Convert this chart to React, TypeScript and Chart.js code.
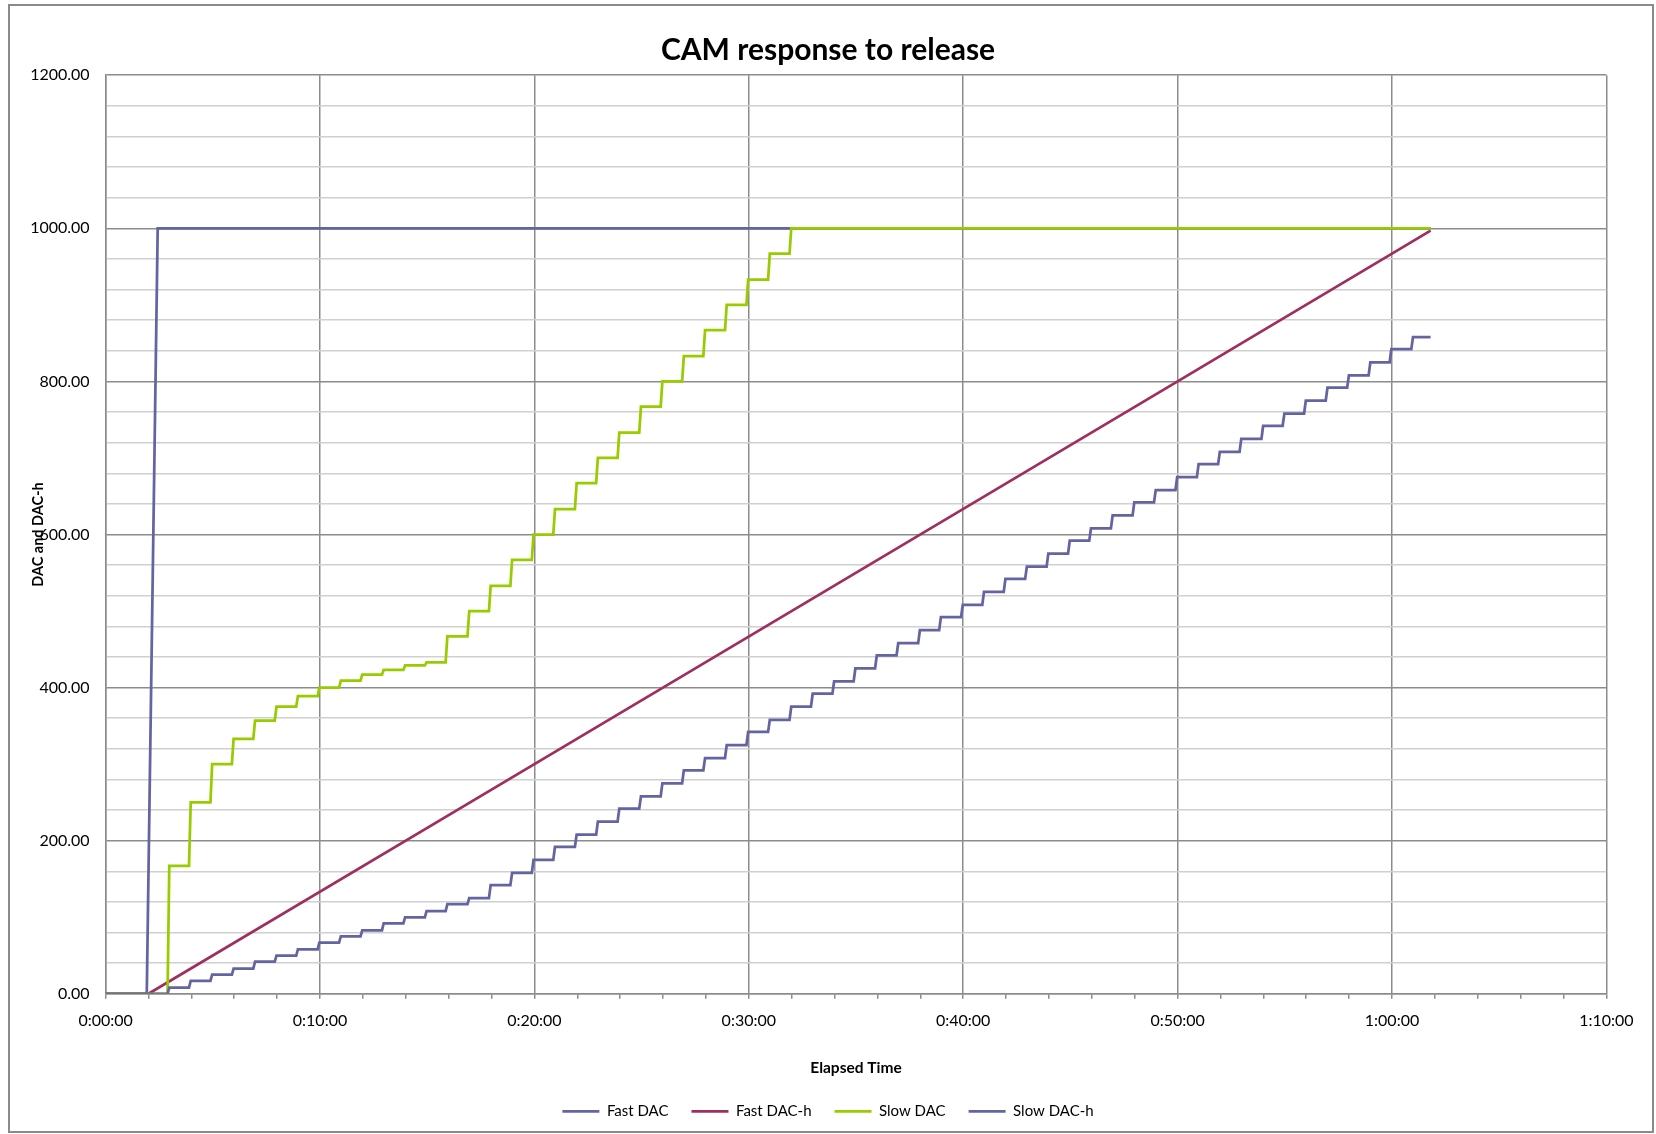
import React, { useEffect, useRef } from 'react';
import { Chart, registerables } from 'chart.js';

Chart.register(...registerables);

// ---- data (minutes of elapsed time, DAC values) ----
const END_MINUTE = 61.8;

const fastDacMinutes = [0, 1.92, 2.43, END_MINUTE];
const fastDacValues = [0, 0, 1000, 1000];

const fastDacHMinutes = [0, 2.0, 20.0, 50.0, END_MINUTE];
const fastDacHValues = [0, 0, 300, 800, 997];

// minutes at which the slow series step up
const stepMinutes = [
  2.93, 3.93, 4.93, 5.93, 6.93, 7.93, 8.93, 9.93, 10.93, 11.93,
  12.93, 13.93, 14.93, 15.9, 16.92, 17.92, 18.92, 19.92, 20.92, 21.93,
  22.92, 23.92, 24.93, 25.93, 26.93, 27.92, 28.93, 29.93, 30.94, 31.94,
  32.94, 33.94, 34.93, 35.93, 36.93, 37.94, 38.92, 39.94, 40.93, 41.93,
  42.93, 43.93, 44.93, 45.92, 46.93, 47.94, 48.94, 49.94, 50.94, 51.93,
  52.93, 53.95, 54.94, 55.94, 56.95, 57.95, 58.95, 59.93, 60.94,
];

const slowDacSteps = [
  167, 250, 300, 333, 357, 375, 389, 400, 409, 417,
  423, 429, 433, 467, 500, 533, 567, 600, 633, 667,
  700, 733, 767, 800, 833, 867, 900, 933, 967, 1000,
];

const slowDacHSteps = [
  8, 17, 25, 33, 42, 50, 58, 67, 75, 83,
  92, 100, 108, 117, 125, 142, 158, 175, 192, 208,
  225, 242, 258, 275, 292, 308, 325, 342, 358, 375,
  392, 408, 425, 442, 458, 475, 492, 508, 525, 542,
  558, 575, 592, 608, 625, 642, 658, 675, 692, 708,
  725, 742, 758, 775, 792, 808, 825, 842, 858,
];

const xTickLabels = ['0:00:00', '0:10:00', '0:20:00', '0:30:00', '0:40:00', '0:50:00', '1:00:00', '1:10:00'];
const yTickLabels = ['0.00', '200.00', '400.00', '600.00', '800.00', '1000.00', '1200.00'];

const seriesNames = ['Fast DAC', 'Fast DAC-h', 'Slow DAC', 'Slow DAC-h'];

// ---- helpers ----
const SAMPLE_HALF = 0.04; // half of the sampling interval during a step rise

function pairs(xs: number[], ys: number[]) {
  return xs.map((x, i) => ({ x, y: ys[i] }));
}

function stepSeries(values: number[]) {
  const pts: { x: number; y: number }[] = [{ x: 0, y: 0 }];
  let prev = 0;
  values.forEach((v, i) => {
    const t = stepMinutes[i];
    pts.push({ x: t - SAMPLE_HALF, y: prev }, { x: t + SAMPLE_HALF, y: v });
    prev = v;
  });
  pts.push({ x: END_MINUTE, y: prev });
  return pts;
}

const BLUE = '#6464A2';
const MAROON = '#9E2F5E';
const GREEN = '#99CC00';
const MAJOR = '#8C8C8C';
const MINOR = '#D0D0D0';

export default function App() {
  const ref = useRef<HTMLCanvasElement>(null);

  useEffect(() => {
    if (!ref.current) return;
    Chart.defaults.font.family = 'Lato, "Open Sans", sans-serif';

    const framePlugin = {
      id: 'frame',
      beforeDraw(chart: any) {
        const c = chart.ctx;
        c.save();
        c.fillStyle = '#ffffff';
        c.fillRect(0, 0, chart.width, chart.height);
        c.restore();
      },
      afterDraw(chart: any) {
        const c = chart.ctx;
        c.save();
        c.strokeStyle = '#8A8A8A';
        c.lineWidth = 2;
        c.strokeRect(9, 5, chart.width - 12, chart.height - 7);
        c.restore();
      },
    };

    const lineDs = (label: string, data: any[], color: string, order: number) => ({
      label,
      data,
      borderColor: color,
      backgroundColor: color,
      borderWidth: 2.75,
      pointRadius: 0,
      pointHoverRadius: 0,
      pointStyle: 'line',
      tension: 0,
      fill: false,
      order,
    });

    const chart = new Chart(ref.current, {
      type: 'line',
      data: {
        datasets: [
          lineDs(seriesNames[0], pairs(fastDacMinutes, fastDacValues), BLUE, 4),
          lineDs(seriesNames[1], pairs(fastDacHMinutes, fastDacHValues), MAROON, 3),
          lineDs(seriesNames[2], stepSeries(slowDacSteps), GREEN, 2),
          lineDs(seriesNames[3], stepSeries(slowDacHSteps), BLUE, 1),
        ] as any,
      },
      options: {
        responsive: false,
        animation: false,
        parsing: false as any,
        layout: { padding: { top: 0, left: 0, right: 0, bottom: 5.2 } },
        plugins: {
          title: {
            display: true,
            text: 'CAM response to release',
            color: '#000',
            font: { size: 30, weight: 'bold' },
            padding: { top: 32, bottom: 7.2 },
          },
          legend: {
            display: true,
            position: 'bottom',
            labels: {
              usePointStyle: true,
              pointStyleWidth: 37,
              color: '#000',
              font: { size: 15 },
              padding: 23,
              sort: (a: any, b: any) => a.datasetIndex - b.datasetIndex,
            },
          },
          tooltip: { enabled: false },
        },
        scales: {
          x: {
            type: 'linear',
            position: 'bottom',
            min: 0,
            max: 70,
            afterFit: (s: any) => {
              s.height = 87;
            },
            ticks: {
              stepSize: 2,
              autoSkip: false,
              maxRotation: 0,
              padding: 12,
              color: '#000',
              font: { size: 16 },
              callback: (v: any) => {
                const n = Math.round(Number(v));
                return n % 10 === 0 ? xTickLabels[n / 10] : '';
              },
            },
            grid: {
              color: (ctx: any) =>
                ctx.tick && Math.round(ctx.tick.value) % 10 === 0 ? MAJOR : 'rgba(0,0,0,0)',
              tickColor: MAJOR,
              tickLength: 5,
              lineWidth: 1.5,
              drawTicks: true,
            },
            border: { color: MAJOR, width: 1.5 },
            title: {
              display: true,
              text: 'Elapsed Time',
              color: '#000',
              font: { size: 15.5, weight: 'bold' },
              padding: { top: 0, bottom: 3.5 },
            },
          },
          y: {
            type: 'linear',
            position: 'left',
            min: 0,
            max: 1200,
            afterFit: (s: any) => {
              s.width = 105.6;
            },
            ticks: {
              stepSize: 40,
              autoSkip: false,
              padding: 16,
              color: '#000',
              font: { size: 16 },
              callback: (v: any) => {
                const n = Math.round(Number(v));
                return n % 200 === 0 ? yTickLabels[n / 200] : '';
              },
            },
            grid: {
              color: (ctx: any) =>
                ctx.tick && Math.round(ctx.tick.value) % 200 === 0 ? MAJOR : MINOR,
              drawTicks: false,
              lineWidth: 1.5,
            },
            border: { color: MAJOR, width: 1.5 },
            title: {
              display: true,
              text: 'DAC and DAC-h',
              color: '#000',
              font: { size: 14.5, weight: 'bold' },
              padding: { top: 29.3, bottom: 0 },
            },
          },
          yR: {
            type: 'linear',
            position: 'right',
            display: true,
            afterFit: (s: any) => {
              s.width = 49.6;
            },
            grid: { display: false, drawOnChartArea: false },
            ticks: { display: false },
            border: { display: false },
          },
        },
      } as any,
      plugins: [framePlugin],
    });

    return () => {
      chart.destroy();
    };
  }, []);

  return (
    <div style={{ position: 'fixed', left: 0, top: 0, width: 1656, height: 1134, background: '#fff' }}>
      <canvas ref={ref} width={1656} height={1134} style={{ display: 'block', width: 1656, height: 1134 }} />
    </div>
  );
}
